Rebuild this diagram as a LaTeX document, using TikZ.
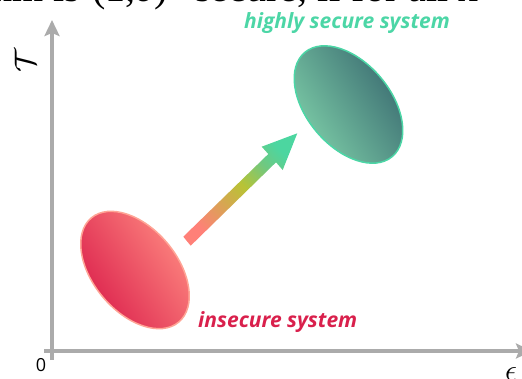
\documentclass[tikz,border=0pt]{standalone}
\usepackage{fix-cm}
\usepackage{fontspec}
\setmainfont{Liberation Serif}
\newfontfamily\lblfont{Open Sans}
\usetikzlibrary{arrows.meta,shapes.geometric}
\definecolor{axisgray}{HTML}{ABABAB}
\definecolor{mint}{HTML}{4CD6A6}
\definecolor{crim}{HTML}{D9204C}
\definecolor{mintlight}{HTML}{80D2AA}
\definecolor{mintdark}{HTML}{38686F}
\definecolor{redlight}{HTML}{FF8C82}
\definecolor{reddark}{HTML}{DA1C4A}
\definecolor{redrim}{HTML}{FFA596}
\definecolor{arra}{HTML}{FF8078}
\definecolor{arrb}{HTML}{B8C335}
\definecolor{arrm}{HTML}{70C880}
\definecolor{arrc}{HTML}{4CD6A0}
\pgfdeclarehorizontalshading{progressgrad}{100bp}{color(0bp)=(arra); color(25bp)=(arra); color(52bp)=(arrb); color(65bp)=(arrm); color(75bp)=(arrc); color(100bp)=(arrc)}
\tikzset{
  axisline/.style={draw=axisgray,line width=3.6pt,-{Stealth[length=16pt,width=15pt,inset=3pt]}},
  blob/.style={ellipse,inner sep=0pt,minimum width=136pt,minimum height=84pt,rotate=-50,line width=1.5pt},
  sys/.style={font=\lblfont\bfseries\itshape\fontsize{21}{21}\selectfont,anchor=base west,inner sep=0pt},
  clipped/.style={font=\fontsize{40}{40}\selectfont,anchor=base west,inner sep=0pt},
}
\begin{document}
\begin{tikzpicture}[x=1pt,y=-1pt]
\useasboundingbox (0,0) rectangle (522,378);
\clip (0,0) rectangle (522,378);
% clipped running text above the figure
\node[clipped,anchor=base east] (t1) at (80,1.5) {rithm is};
\node[clipped] (t2) at (92,1.5) {(1,\textit{δ})};
\node[clipped] (t3) at (195,1.5) {secure, if for all x};
% axes
\coordinate (yfoot) at (52,360);
\coordinate (ytip) at (52,20);
\coordinate (xfoot) at (44,351);
\coordinate (xtip) at (532,351);
\draw[axisline] (yfoot) -- (ytip);
\draw[axisline] (xfoot) -- (xtip);
\node[font=\lblfont\fontsize{18}{18}\selectfont,anchor=base,inner sep=0pt] (zero) at (41,371) {0};
\node[rotate=90,inner sep=0pt,font=\fontsize{30}{30}\selectfont] (tau) at (25,61) {$\mathcal{T}$};
\node[anchor=base,inner sep=0pt,font=\fontsize{30}{30}\selectfont] (eps) at (511,380) {$\epsilon$};
% ellipses
\node[blob,draw=mint,left color=mintlight,right color=mintdark,shading angle=123] (high) at (348.5,104.5) {};
\node[blob,draw=redrim,left color=reddark,right color=redlight,shading angle=123] (low) at (135,270) {};
% gradient block arrow
\coordinate (tail) at (187,241.2);
\coordinate (tip) at (297.3,133.3);
\shade[shading=progressgrad,shading angle=44.4]
  (183.3,236.7) -- (268.3,154) -- (261.7,146.7) -- (tip) -- (282.7,170) -- (276,162.3) -- (190.7,245.7) -- cycle;
% labels
\node[sys,text=mint] (hl) at (244,28) {highly secure system};
\node[sys,text=crim] (il) at (198,327) {insecure system};
\end{tikzpicture}
\end{document}
